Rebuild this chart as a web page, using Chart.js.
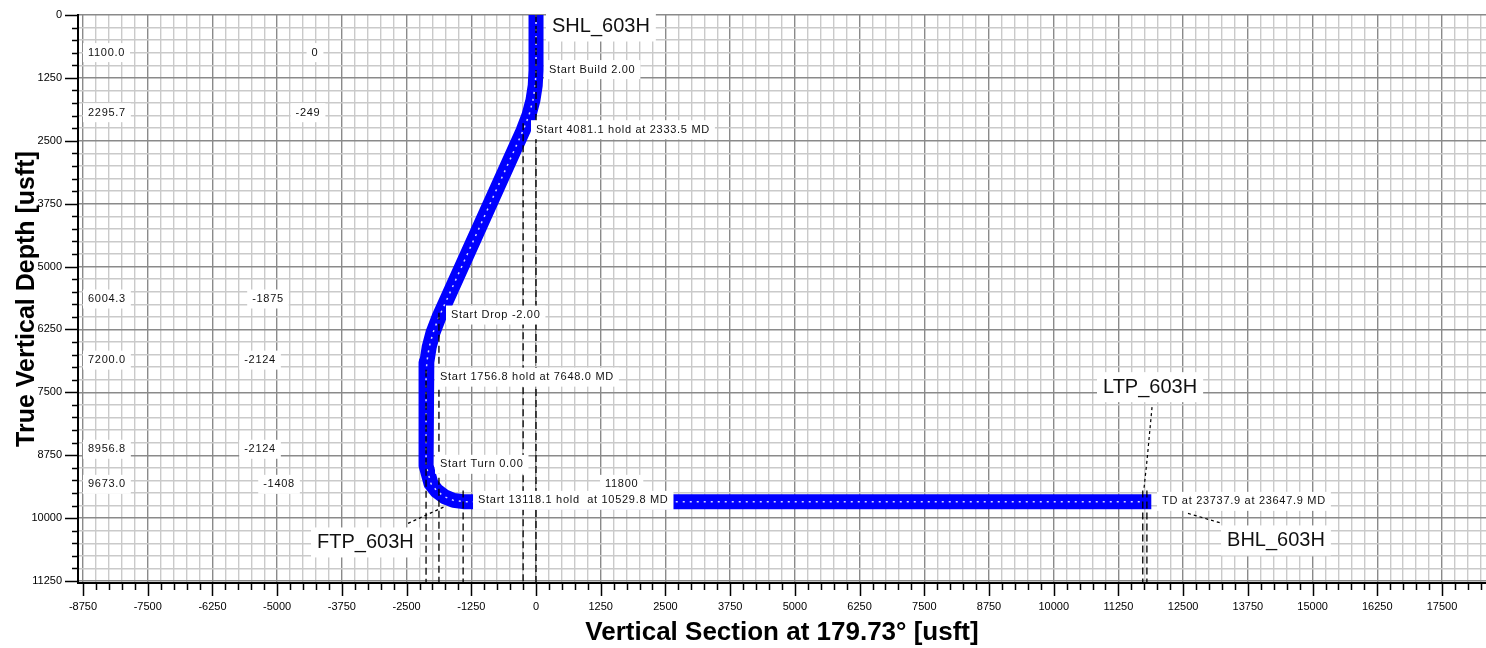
<!DOCTYPE html>
<html>
<head>
<meta charset="utf-8">
<script src="https://cdn.jsdelivr.net/npm/chart.js@4.4.0/dist/chart.umd.min.js"></script>
<style>
  html, body { margin: 0; padding: 0; background: #fff; }
</style>
</head>
<body>
<canvas id="wellChart" width="1486" height="648"></canvas>
<script>
/*****
 * Well plan data (vertical section vs true vertical depth, usft)
 *****/

// Well path
const pathVS  = [0, 0, -15, -60, -134, -249, -1875, -1990, -2064, -2109, -2124, -2124, -2028, -1914, -1766, -1593, -1408, 11740];
const pathTVD = [0, 1100, 1400, 1696, 1985, 2296, 6004, 6315, 6604, 6900, 7200, 8957, 9315, 9463, 9577, 9648, 9673, 9673];

// Key points listed in the table on the left
const keyTVD = [1100.0, 2295.7, 6004.3, 7200.0, 8956.8, 9673.0];
const keyVS  = [0, -249, -1875, -2124, -2124, -1408];

// Dashed drop lines (VS position, TVD where they start)
const dropVS  = [0, -249, -1875, -2124, -1408, 11720, 11800];
const dropTop = [0, 2150, 5920, 7050, 9450, 9450, 9450];

// Target leader lines (VS, TVD)
const ltpLeader = [[11899, 7795], [11802, 8851], [11744, 9409]];
const bhlLeader = [[12594, 9906], [13251, 10105]];
const ftpLeader = [[-2472, 10105], [-1758, 9767]];

// Axis ranges and ticks
const xMin = -8847, xMax = 18350;
const yMin = 0, yMax = 11290;
const xTickValues = [];
for (let v = -8750; v <= 18250; v += 250) xTickValues.push(v);
const yTickValues = [];
for (let v = 0; v <= 11250; v += 250) yTickValues.push(v);

const FONT = "'Liberation Sans', Arial, sans-serif";

// Text annotations: [text, vs, tvd, size, align]
const notes = [
  ['SHL_603H', 309, 229, 20, 'left'],
  ['Start Build 2.00', 251, 1085, 11, 'left'],
  ['Start 4081.1 hold at 2333.5 MD', 0, 2280, 11, 'left'],
  ['Start Drop -2.00', -1642, 5964, 11, 'left'],
  ['Start 1756.8 hold at 7648.0 MD', -1854, 7198, 11, 'left'],
  ['Start Turn 0.00', -1854, 8931, 11, 'left'],
  ['11800', 1333, 9329, 11, 'left'],
  ['Start 13118.1 hold  at 10529.8 MD', -1120, 9647, 11, 'left'],
  ['TD at 23737.9 at 23647.9 MD', 12092, 9667, 11, 'left'],
  ['LTP_603H', 10952, 7397, 20, 'left'],
  ['BHL_603H', 13348, 10444, 20, 'left'],
  ['FTP_603H', -4230, 10484, 20, 'left']
];
// Table on the left (TVD column and VS column)
const tableTVDPos = [747, 1942, 5645, 6860, 8632, 9329];
const tableVSPos  = [-4269, -4404, -5177, -5331, -5331, -4964];
keyTVD.forEach((t, i) => {
  notes.push([t.toFixed(1), -8654, tableTVDPos[i], 11, 'left']);
  notes.push([String(keyVS[i]), tableVSPos[i], tableTVDPos[i], 11, 'center']);
});

// Build datasets
const toPts = (xs, ys) => xs.map((x, i) => ({ x: x, y: ys[i] }));
const datasets = [];

dropVS.forEach((vs, i) => {
  datasets.push({
    data: [{ x: vs, y: dropTop[i] }, { x: vs, y: yMax }],
    borderColor: '#000', borderWidth: 1.3, borderDash: [7, 4],
    pointRadius: 0, showLine: true, order: 1
  });
});
[ltpLeader, bhlLeader, ftpLeader].forEach((ln) => {
  datasets.push({
    data: ln.map(p => ({ x: p[0], y: p[1] })),
    borderColor: '#000', borderWidth: 1.2, borderDash: [3, 3],
    pointRadius: 0, showLine: true, order: 1
  });
});
// white specks inside the marker band
datasets.push({
  data: toPts(pathVS, pathTVD),
  borderColor: 'rgba(255,255,255,0.85)', borderWidth: 1.5, borderDash: [2, 5],
  pointRadius: 0, showLine: true, order: 2
});
datasets.push({
  data: toPts(pathVS, pathTVD),
  borderColor: '#0000ff', borderWidth: 15, borderCapStyle: 'square',
  borderJoinStyle: 'round', pointRadius: 0, showLine: true, order: 3
});

// Plugin for the tick marks and the text boxes
const decorPlugin = {
  id: 'decor',
  afterDatasetsDraw(chart) {
    const ctx = chart.ctx;
    const xs = chart.scales.x, ys = chart.scales.y;
    ctx.save();
    notes.forEach(([text, vs, tvd, size, align]) => {
      ctx.font = size + 'px ' + FONT;
      ctx.letterSpacing = size > 12 ? '0px' : '0.7px';
      ctx.textBaseline = 'middle';
      ctx.textAlign = 'left';
      const w = ctx.measureText(text).width;
      let x = xs.getPixelForValue(vs);
      if (align === 'center') x -= w / 2;
      const y = ys.getPixelForValue(tvd);
      const padX = size > 12 ? 6 : 5;
      const h = size > 12 ? 30 : 19;
      ctx.fillStyle = '#fff';
      ctx.fillRect(x - padX, y - h / 2, w + padX * 2, h);
      ctx.fillStyle = '#111';
      ctx.fillText(text, x, y);
    });
    ctx.restore();
  },
  afterDraw(chart) {
    const ctx = chart.ctx;
    const xs = chart.scales.x, ys = chart.scales.y;
    const area = chart.chartArea;
    ctx.save();
    ctx.strokeStyle = '#000';
    ctx.lineWidth = 1.5;
    ctx.beginPath();
    xTickValues.forEach((v) => {
      const px = Math.round(xs.getPixelForValue(v)) + 0.5;
      const len = v % 1250 === 0 ? 13 : 7;
      ctx.moveTo(px, area.bottom);
      ctx.lineTo(px, area.bottom + len);
    });
    yTickValues.forEach((v) => {
      const py = Math.round(ys.getPixelForValue(v)) + 0.5;
      const len = v % 1250 === 0 ? 13 : 6;
      ctx.moveTo(area.left, py);
      ctx.lineTo(area.left - len, py);
    });
    ctx.stroke();
    ctx.restore();
  }
};

const gridColor = (c) => (c.tick && c.tick.value % 1250 === 0) ? '#8a8a8a' : '#cacaca';

new Chart(document.getElementById('wellChart').getContext('2d'), {
  type: 'scatter',
  data: { datasets: datasets },
  options: {
    responsive: false,
    animation: false,
    layout: { padding: { top: 15, right: 0, bottom: 0, left: 0 } },
    plugins: { legend: { display: false }, tooltip: { enabled: false } },
    scales: {
      x: {
        type: 'linear', min: xMin, max: xMax,
        afterBuildTicks: (s) => { s.ticks = xTickValues.map(v => ({ value: v })); },
        afterFit: (s) => { s.height = 65; s.paddingLeft = 0; s.paddingRight = 0; },
        ticks: {
          autoSkip: false, maxRotation: 0, padding: 17, color: '#000',
          font: { family: FONT, size: 11 },
          callback: (v) => (v % 1250 === 0 ? String(v) : '')
        },
        grid: { color: gridColor, lineWidth: 1.4, drawTicks: false },
        border: { display: true, color: '#000', width: 2 },
        title: {
          display: true, text: 'Vertical Section at 179.73° [usft]', color: '#000',
          font: { family: FONT, size: 26, weight: 'bold' }, padding: { top: 0, bottom: 0 }
        }
      },
      y: {
        type: 'linear', min: yMin, max: yMax, reverse: true,
        afterBuildTicks: (s) => { s.ticks = yTickValues.map(v => ({ value: v })); },
        afterFit: (s) => { s.width = 78; s.paddingTop = 0; s.paddingBottom = 0; },
        ticks: {
          autoSkip: false, padding: 16, color: '#000',
          font: { family: FONT, size: 11 },
          callback: (v) => (v % 1250 === 0 ? String(v) : '')
        },
        grid: { color: gridColor, lineWidth: 1.4, drawTicks: false },
        border: { display: true, color: '#000', width: 2 },
        title: {
          display: true, text: 'True Vertical Depth [usft]', color: '#000',
          font: { family: FONT, size: 25, weight: 'bold' }, padding: { top: 12, bottom: 0 }
        }
      }
    }
  },
  plugins: [decorPlugin]
});
</script>
</body>
</html>
